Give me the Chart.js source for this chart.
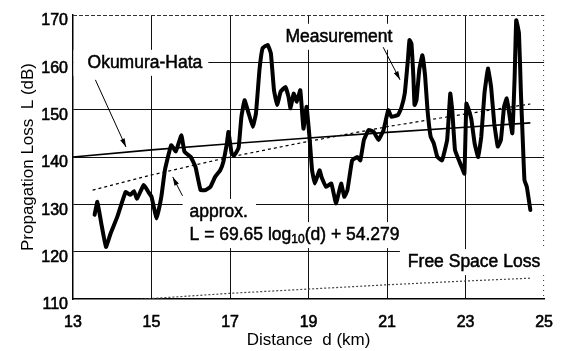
<!DOCTYPE html>
<html>
<head>
<meta charset="utf-8">
<script src="https://cdn.jsdelivr.net/npm/chart.js@4/dist/chart.umd.min.js"></script>
<style>
  html, body { margin: 0; padding: 0; background: #fff; }
  #wrap { width: 567px; height: 351px; position: relative; }
</style>
</head>
<body>
<div id="wrap"><canvas id="chart"></canvas></div>
<script>
// axis ticks
const xTicks = [13, 15, 17, 19, 21, 23, 25];
const yTicks = [110, 120, 130, 140, 150, 160, 170];

// measured propagation loss (km, dB)
const measDist = [
  13.55, 13.62, 13.72, 13.84, 13.96, 14.13, 14.34, 14.46, 14.55, 14.63,
  14.80, 14.92, 15.00, 15.13, 15.25, 15.34, 15.50, 15.62, 15.76, 15.84,
  16.00, 16.12, 16.25, 16.37, 16.50, 16.62, 16.75, 16.83, 16.92, 16.96,
  17.04, 17.10, 17.16, 17.22, 17.29, 17.37, 17.46, 17.58, 17.66, 17.75,
  17.83, 17.96, 18.04, 18.12, 18.20, 18.29, 18.41, 18.49, 18.54, 18.62,
  18.70, 18.79, 18.87, 18.95, 19.03, 19.09, 19.16, 19.28, 19.33, 19.45,
  19.58, 19.70, 19.83, 19.91, 19.99, 20.11, 20.24, 20.32, 20.41, 20.53,
  20.66, 20.78, 20.91, 21.03, 21.11, 21.28, 21.36, 21.45, 21.53, 21.57,
  21.62, 21.67, 21.70, 21.75, 21.82, 21.90, 21.97, 22.03, 22.11, 22.19,
  22.28, 22.40, 22.53, 22.61, 22.66, 22.73, 22.83, 22.90, 22.97, 23.02,
  23.08, 23.15, 23.23, 23.32, 23.40, 23.48, 23.57, 23.65, 23.73, 23.82,
  23.90, 23.98, 24.05, 24.10, 24.19, 24.25, 24.29, 24.36, 24.41, 24.46,
  24.50, 24.56, 24.65
];
const measLoss = [
  127.8, 130.5, 126.0, 121.0, 123.9, 127.4, 132.6, 132.0, 132.8, 131.2,
  134.1, 132.6, 131.6, 127.0, 131.6, 137.2, 142.5, 141.2, 144.6, 141.1,
  140.0, 137.9, 133.0, 133.0, 133.7, 135.8, 137.2, 139.0, 142.9, 145.3,
  140.8, 140.3, 141.0, 142.0, 148.5, 152.0, 149.6, 146.4, 149.2, 158.4,
  163.0, 163.7, 161.9, 154.1, 151.0, 153.8, 154.8, 152.7, 150.3, 153.4,
  151.7, 154.1, 146.0, 150.6, 143.6, 137.2, 134.4, 137.2, 135.8, 133.7,
  134.4, 130.2, 134.4, 131.6, 133.0, 139.3, 140.0, 139.3, 143.6, 145.7,
  145.3, 143.6, 145.7, 149.9, 148.5, 148.9, 150.3, 153.4, 160.5, 164.7,
  164.0, 157.0, 151.0, 152.0, 158.4, 161.5, 157.0, 149.9, 144.3, 142.9,
  140.0, 139.3, 143.6, 153.4, 149.9, 141.5, 139.3, 137.9, 136.5, 151.3,
  150.0, 147.8, 142.9, 140.0, 144.3, 153.4, 158.7, 154.8, 147.1, 142.2,
  143.6, 150.6, 152.4, 149.9, 145.0, 157.0, 168.9, 166.1, 153.4, 142.9,
  135.1, 133.7, 128.8
];

// Okumura-Hata prediction
const hataDist = [13.0, 15.0, 17.0, 19.0, 21.0, 23.0, 24.65];
const hataLoss = [140.0, 141.5, 142.8, 144.0, 145.2, 146.3, 147.2];

// regression line L = 69.65 log10(d) + 54.279
const approxDist = [13.5, 15.0, 17.0, 19.0, 21.0, 23.0, 24.65];
const approxLoss = [133.0, 136.2, 140.0, 143.3, 146.4, 149.1, 151.2];

// free space loss
const fsDist = [13.5, 15.0, 17.0, 19.0, 21.0, 23.0, 24.65];
const fsLoss = [109.2, 110.1, 111.2, 112.1, 113.0, 113.8, 114.4];

const toPoints = (xs, ys) => xs.map((x, i) => ({ x: x, y: ys[i] }));

const FONT = "'Liberation Sans', Arial, sans-serif";
const LABEL_FONT = '17.5px ' + FONT;
const SUB_FONT = '12px ' + FONT;

// text labels and arrows, placed in data coordinates
const labels = [
  { text: 'Okumura-Hata', x: 13.37, y: 159.9, padL: 14, padR: 6 },
  { text: 'Measurement', x: 18.41, y: 165.4, padL: 6, padR: 6 },
  { text: 'approx.', x: 15.97, y: 128.4, padL: 7, padR: 8 },
  { text: 'L = 69.65 log', sub: '10', after: '(d) + 54.279', x: 15.97, y: 123.5, padL: 7, padR: 6 },
  { text: 'Free Space Loss', x: 21.53, y: 117.8, padL: 8, padR: 12 }
];
const arrows = [
  { from: [13.57, 156.3], to: [14.35, 142.1] },
  { from: [20.90, 163.2], to: [21.33, 156.3] },
  { from: [15.79, 131.8], to: [15.54, 135.8] }
];

function boldText(ctx, str, x, y) {
  ctx.fillText(str, x, y);
  ctx.strokeText(str, x, y);
}

const annotationPlugin = {
  id: 'figureNotes',
  beforeDatasetsDraw(chart) {
    const ctx = chart.ctx;
    const xs = chart.scales.x, ys = chart.scales.y;
    const area = chart.chartArea;
    ctx.save();
    // dashed top and dotted right frame
    ctx.strokeStyle = '#333';
    ctx.lineWidth = 1;
    ctx.setLineDash([4, 2]);
    ctx.beginPath();
    ctx.moveTo(area.left, area.top + 0.5);
    ctx.lineTo(area.right, area.top + 0.5);
    ctx.stroke();
    ctx.setLineDash([1, 4]);
    ctx.beginPath();
    ctx.moveTo(area.right - 0.5, area.top);
    ctx.lineTo(area.right - 0.5, area.bottom);
    ctx.stroke();
    ctx.setLineDash([]);

    ctx.font = LABEL_FONT;
    ctx.textBaseline = 'middle';
    ctx.strokeStyle = '#000';
    ctx.lineWidth = 0.5;
    labels.forEach(l => {
      const px = xs.getPixelForValue(l.x);
      const py = ys.getPixelForValue(l.y);
      let w = ctx.measureText(l.text).width;
      if (l.sub) {
        ctx.font = SUB_FONT;
        w += ctx.measureText(l.sub).width;
        ctx.font = LABEL_FONT;
        w += ctx.measureText(l.after).width;
      }
      ctx.fillStyle = '#fff';
      ctx.fillRect(px - l.padL, py - 13, w + l.padL + l.padR, 26);
      ctx.fillStyle = '#000';
      boldText(ctx, l.text, px, py);
      if (l.sub) {
        let cx = px + ctx.measureText(l.text).width;
        ctx.font = SUB_FONT;
        boldText(ctx, l.sub, cx, py + 5);
        cx += ctx.measureText(l.sub).width;
        ctx.font = LABEL_FONT;
        boldText(ctx, l.after, cx, py);
      }
    });
    ctx.restore();
  },
  afterDatasetsDraw(chart) {
    const ctx = chart.ctx;
    const xs = chart.scales.x, ys = chart.scales.y;
    ctx.save();
    ctx.strokeStyle = '#000';
    ctx.fillStyle = '#000';
    ctx.lineWidth = 1;
    arrows.forEach(a => {
      const x0 = xs.getPixelForValue(a.from[0]), y0 = ys.getPixelForValue(a.from[1]);
      const x1 = xs.getPixelForValue(a.to[0]), y1 = ys.getPixelForValue(a.to[1]);
      const ang = Math.atan2(y1 - y0, x1 - x0);
      ctx.beginPath();
      ctx.moveTo(x0, y0);
      ctx.lineTo(x1, y1);
      ctx.stroke();
      ctx.beginPath();
      ctx.moveTo(x1, y1);
      ctx.lineTo(x1 - 9 * Math.cos(ang - 0.28), y1 - 9 * Math.sin(ang - 0.28));
      ctx.lineTo(x1 - 9 * Math.cos(ang + 0.28), y1 - 9 * Math.sin(ang + 0.28));
      ctx.closePath();
      ctx.fill();
    });
    ctx.restore();
  }
};

new Chart(document.getElementById('chart'), {
  type: 'scatter',
  data: {
    datasets: [
      {
        label: 'Free Space Loss',
        data: toPoints(fsDist, fsLoss),
        showLine: true,
        borderColor: '#444',
        borderWidth: 1.2,
        borderDash: [2, 2],
        pointRadius: 0
      },
      {
        label: 'approx.',
        data: toPoints(approxDist, approxLoss),
        showLine: true,
        borderColor: '#000',
        borderWidth: 1.2,
        borderDash: [3, 3],
        pointRadius: 0
      },
      {
        label: 'Okumura-Hata',
        data: toPoints(hataDist, hataLoss),
        showLine: true,
        borderColor: '#000',
        borderWidth: 1.6,
        pointRadius: 0
      },
      {
        label: 'Measurement',
        data: toPoints(measDist, measLoss),
        showLine: true,
        borderColor: '#000',
        borderWidth: 4,
        borderJoinStyle: 'round',
        borderCapStyle: 'round',
        tension: 0.1,
        pointRadius: 0
      }
    ]
  },
  options: {
    responsive: true,
    maintainAspectRatio: false,
    animation: false,
    layout: { padding: { top: 15, right: 13, left: 0, bottom: 0 } },
    plugins: {
      legend: { display: false },
      tooltip: { enabled: false }
    },
    scales: {
      x: {
        type: 'linear',
        min: 13,
        max: 25,
        afterBuildTicks: (scale) => { scale.ticks = xTicks.map(v => ({ value: v })); },
        afterFit: (scale) => { scale.height = 52; },
        grid: {
          drawTicks: false,
          color: (c) => (c.tick && (c.tick.value === 25 || c.tick.value === 13)) ? 'rgba(0,0,0,0)' : '#111',
          lineWidth: 1
        },
        border: { color: '#000', width: 1.5 },
        ticks: {
          padding: 14,
          color: '#000',
          textStrokeColor: '#000',
          textStrokeWidth: 0.6,
          font: { family: FONT, size: 16 }
        },
        title: {
          display: true,
          text: 'Distance  d (km)',
          color: '#000',
          font: { family: FONT, size: 17 },
          padding: { top: 0, bottom: 0 }
        }
      },
      y: {
        type: 'linear',
        min: 110,
        max: 170,
        afterBuildTicks: (scale) => { scale.ticks = yTicks.map(v => ({ value: v })); },
        afterFit: (scale) => { scale.width = 73; },
        grid: {
          drawTicks: false,
          color: (c) => (c.tick && (c.tick.value === 170 || c.tick.value === 110)) ? 'rgba(0,0,0,0)' : '#111',
          lineWidth: 1
        },
        border: { color: '#000', width: 1.5 },
        ticks: {
          padding: 5,
          labelOffset: 6,
          color: '#000',
          textStrokeColor: '#000',
          textStrokeWidth: 0.6,
          font: { family: FONT, size: 16 }
        },
        title: {
          display: true,
          text: 'Propagation Loss  L (dB)',
          color: '#000',
          font: { family: FONT, size: 17 },
          padding: { top: 18, bottom: 0 }
        }
      }
    }
  },
  plugins: [annotationPlugin]
});
</script>
</body>
</html>
